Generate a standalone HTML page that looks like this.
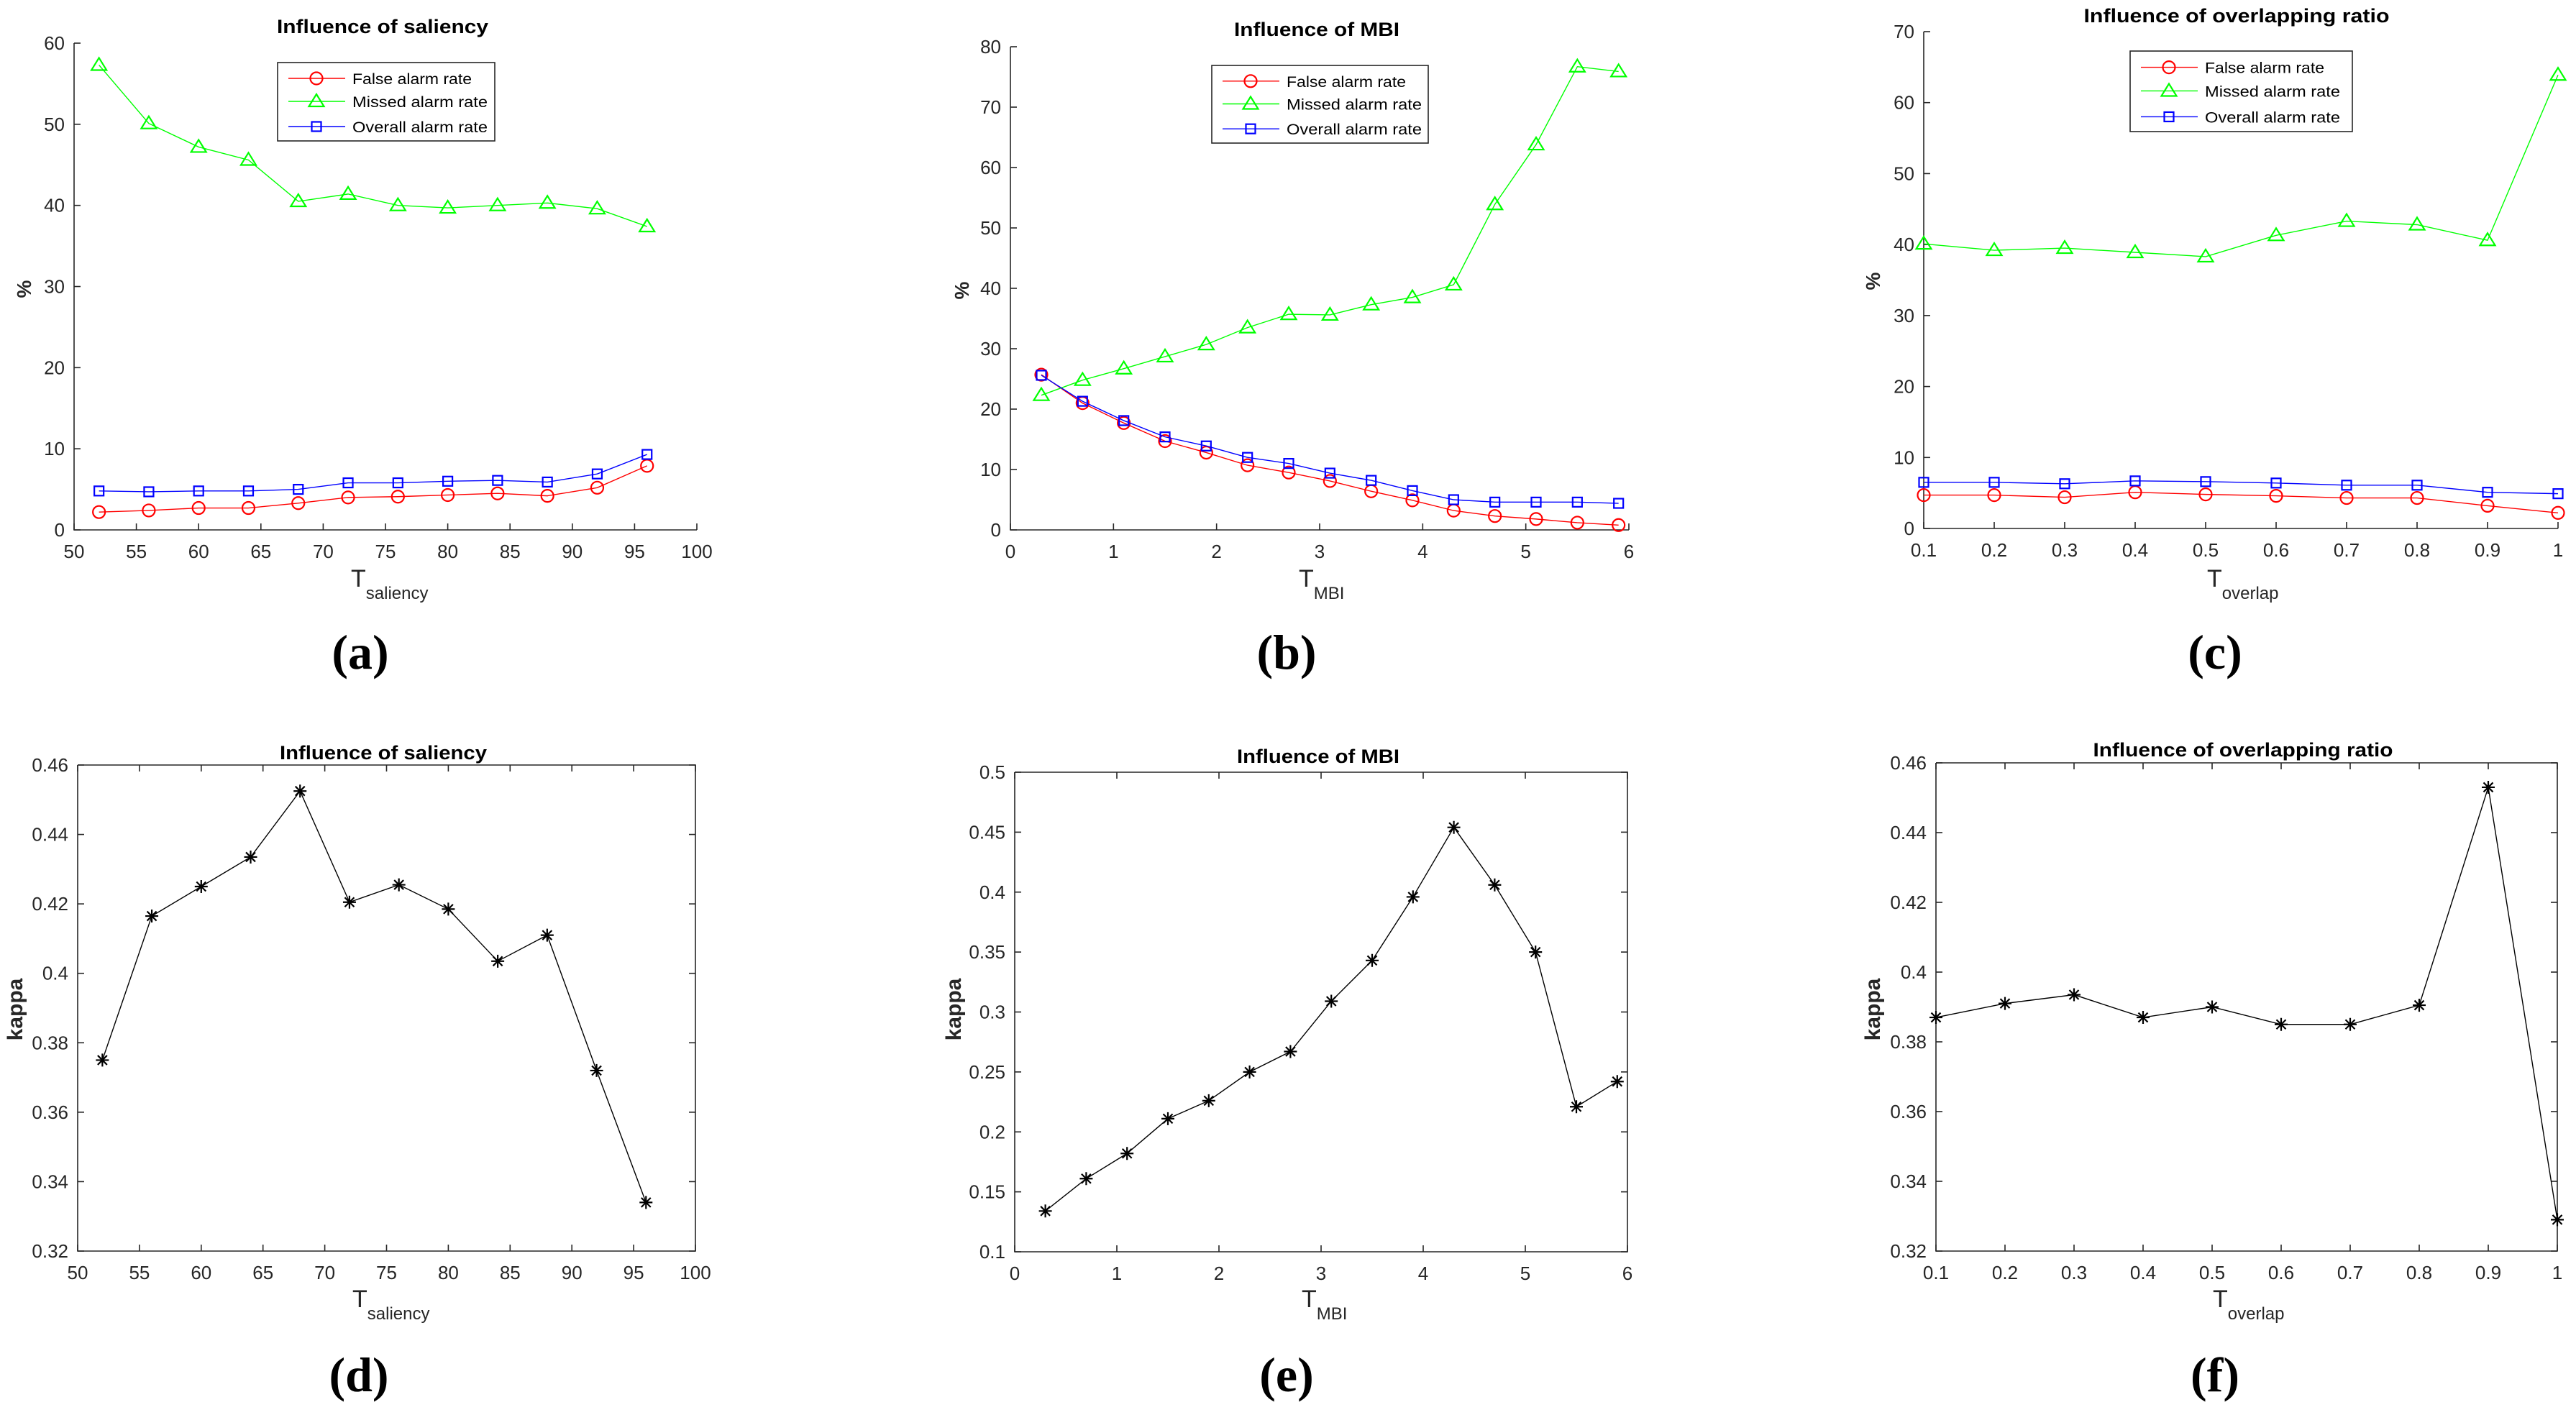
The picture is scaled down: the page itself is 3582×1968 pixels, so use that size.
<!DOCTYPE html>
<html><head><meta charset="utf-8"><style>
html,body{margin:0;padding:0;background:#fff;}
svg{display:block;font-family:"Liberation Sans",Arial,sans-serif;}
</style></head><body>
<svg id="fig" width="3582" height="1968" viewBox="0 0 3582 1968" xmlns="http://www.w3.org/2000/svg"></svg>
<script>
// ---- data ----
const salX = [52,56,60,64,68,72,76,80,84,88,92,96];
const salFalse = [2.2,2.4,2.7,2.7,3.3,4.0,4.1,4.3,4.5,4.2,5.2,7.9];
const salMissed = [57.3,50.1,47.2,45.6,40.5,41.4,40.0,39.7,40.0,40.3,39.6,37.4];
const salOverall = [4.8,4.7,4.8,4.8,5.0,5.8,5.8,6.0,6.1,5.9,6.9,9.3];
const mbiX = [0.3,0.7,1.1,1.5,1.9,2.3,2.7,3.1,3.5,3.9,4.3,4.7,5.1,5.5,5.9];
const mbiFalse = [25.7,21.0,17.7,14.7,12.8,10.7,9.5,8.1,6.4,4.9,3.2,2.3,1.8,1.2,0.8];
const mbiMissed = [22.3,24.8,26.7,28.7,30.7,33.5,35.7,35.6,37.3,38.5,40.6,53.9,63.8,76.7,75.9];
const mbiOverall = [25.6,21.3,18.1,15.4,13.9,12.0,11.0,9.4,8.2,6.5,5.0,4.6,4.6,4.6,4.4];
const ovX = [0.1,0.2,0.3,0.4,0.5,0.6,0.7,0.8,0.9,1.0];
const ovFalse = [4.7,4.7,4.4,5.1,4.8,4.6,4.3,4.3,3.2,2.2];
const ovMissed = [40.1,39.2,39.5,38.9,38.3,41.3,43.3,42.8,40.6,63.9];
const ovOverall = [6.5,6.5,6.3,6.7,6.6,6.4,6.1,6.1,5.1,4.9];
const salKappa = [0.375,0.4165,0.425,0.4335,0.4525,0.4205,0.4255,0.4185,0.4035,0.411,0.372,0.334];
const mbiKappa = [0.134,0.161,0.182,0.211,0.226,0.250,0.267,0.309,0.343,0.396,0.454,0.406,0.350,0.221,0.242];
const ovKappa = [0.387,0.391,0.3935,0.387,0.390,0.385,0.385,0.3905,0.453,0.329];
const salTicks = ['50','55','60','65','70','75','80','85','90','95','100'];
const mbiTicks = ['0','1','2','3','4','5','6'];
const ovTicks = ['0.1','0.2','0.3','0.4','0.5','0.6','0.7','0.8','0.9','1'];
const pctTicks60 = ['0','10','20','30','40','50','60'];
const pctTicks80 = ['0','10','20','30','40','50','60','70','80'];
const pctTicks70 = ['0','10','20','30','40','50','60','70'];
const kapTicksA = ['0.32','0.34','0.36','0.38','0.4','0.42','0.44','0.46'];
const kapTicksB = ['0.1','0.15','0.2','0.25','0.3','0.35','0.4','0.45','0.5'];
const legendLabels = ['False alarm rate','Missed alarm rate','Overall alarm rate'];

const NS='http://www.w3.org/2000/svg';
const svg=document.getElementById('fig');
const AX='#262626';
function mk(tag,attrs,parent){const e=document.createElementNS(NS,tag);for(const k in attrs)e.setAttribute(k,attrs[k]);(parent||svg).appendChild(e);return e;}

function marker(g,type,x,y,color){
  let m;
  if(type==='o') m=mk('circle',{cx:x,cy:y,r:8.5,fill:'none',stroke:color,'stroke-width':2.2},g);
  else if(type==='^') m=mk('polygon',{points:`${x},${y-10} ${x-10.5},${y+7} ${x+10.5},${y+7}`,fill:'none',stroke:color,'stroke-width':2.2},g);
  else if(type==='s') m=mk('rect',{x:x-6.5,y:y-6.5,width:13,height:13,fill:'none',stroke:color,'stroke-width':2.2},g);
  else { m=mk('path',{d:`M${x-9},${y}H${x+9}M${x},${y-9}V${y+9}M${x-6.5},${y-6.5}L${x+6.5},${y+6.5}M${x-6.5},${y+6.5}L${x+6.5},${y-6.5}`,stroke:color,'stroke-width':2.2,fill:'none'},g);}
  return m;
}

function panel(p){
  const g=mk('g',{});
  
  
  const sx=v=>p.x0+(v-p.xmin)/(p.xmax-p.xmin)*(p.x1-p.x0);
  const sy=v=>p.y0-(v-p.ymin)/(p.ymax-p.ymin)*(p.y0-p.y1);
  // axes
  const ax=mk('path',{d:`M${p.x0},${p.y1}V${p.y0}H${p.x1}`+(p.box?`V${p.y1}H${p.x0}`:''),fill:'none',stroke:AX,'stroke-width':1.6},g);
  
  
  p.xt.forEach((t,i)=>{
    const v=parseFloat(t), x=sx(v);
    mk('line',{x1:x,x2:x,y1:p.y0,y2:p.y0-9,stroke:AX,'stroke-width':1.6},g);
    if(p.box) mk('line',{x1:x,x2:x,y1:p.y1,y2:p.y1+9,stroke:AX,'stroke-width':1.6},g);
    const tx=mk('text',{x:x,y:p.y0+39,'font-size':26,fill:AX,'text-anchor':'middle'},g);
    tx.textContent=t;
    
    
  });
  p.yt.forEach((t,i)=>{
    const v=parseFloat(t), y=sy(v);
    mk('line',{x1:p.x0,x2:p.x0+9,y1:y,y2:y,stroke:AX,'stroke-width':1.6},g);
    if(p.box) mk('line',{x1:p.x1,x2:p.x1-9,y1:y,y2:y,stroke:AX,'stroke-width':1.6},g);
    const tx=mk('text',{x:p.x0-13,y:y+9,'font-size':26,fill:AX,'text-anchor':'end'},g);
    tx.textContent=t;
    
    
  });
  // title
  const ti=mk('text',{x:p.tx,y:p.ty,'font-size':27,'font-weight':'bold',fill:'#000','text-anchor':'middle',textLength:p.tw,lengthAdjust:'spacingAndGlyphs'},g);
  ti.textContent=p.title;
  
  
  // y label
  const yl=mk('text',{x:0,y:0,'font-size':p.ylab==='%'?28:30,'font-weight':'bold',fill:'#262626','text-anchor':'middle',transform:`translate(${p.ylx},${p.yly}) rotate(-90)`},g);
  yl.textContent=p.ylab;
  
  
  // x label
  const xl=mk('text',{x:p.xlx,y:p.xly,'font-size':34,fill:AX},g);
  
  
  const t1=mk('tspan',{},xl); t1.textContent='T';
  const t2=mk('tspan',{'font-size':24,dy:17}); xl.appendChild(t2); t2.textContent=p.sub;
  // panel letter
  const pl=mk('text',{x:p.plx,y:p.ply,'font-size':68,'font-weight':'bold','font-family':'"Liberation Serif",serif',fill:'#000','text-anchor':'middle'},g);
  pl.textContent=p.letter;
  
  
  // series
  p.series.forEach(s=>{
    const sg=mk('g',{},g);
    
    
    const pts=p.xs.map((xv,i)=>sx(xv)+','+sy(s.v[i])).join(' ');
    mk('polyline',{points:pts,fill:'none',stroke:s.c,'stroke-width':1.4},sg);
    p.xs.forEach((xv,i)=>{
      const m=marker(sg,s.m,sx(xv),sy(s.v[i]),s.c);
      
      
    });
  });
  // legend
  if(p.leg){
    const L=p.leg;
    const lg=mk('g',{},g);
    
    
    mk('rect',{x:L.x,y:L.y,width:L.w,height:L.h,fill:'#fff',stroke:AX,'stroke-width':1.6},lg);
    const offs=[22,54,89];
    p.series.forEach((s,i)=>{
      const y=L.y+offs[i]*L.h/109;
      const e=mk('g',{},lg);
      
      
      mk('line',{x1:L.x+15,x2:L.x+94,y1:y,y2:y,stroke:s.c,'stroke-width':1.4},e);
      marker(e,s.m,L.x+54,y,s.c);
      const t=mk('text',{x:L.x+104,y:y+8,'font-size':21,fill:'#000',textLength:i===0?166:188,lengthAdjust:'spacingAndGlyphs'},e);
      t.textContent=legendLabels[i];
    });
  }
}

const R='#ff0000',G='#00ff00',B='#0000ff',K='#000';
panel({name:'chart-a-saliency-rates',x0:103,x1:969,xmin:50,xmax:100,y0:737,y1:60,ymin:0,ymax:60,xt:salTicks,yt:pctTicks60,box:false,
  title:'Influence of saliency',tx:532,ty:46,tw:294,ylab:'%',ylx:43,yly:402,sub:'saliency',xlx:488,xly:816,letter:'(a)',plx:501,ply:930,
  xs:salX,series:[{name:'series-false-alarm',v:salFalse,c:R,m:'o'},{name:'series-missed-alarm',v:salMissed,c:G,m:'^'},{name:'series-overall-alarm',v:salOverall,c:B,m:'s'}],
  leg:{x:386,y:87,w:302,h:109}});
panel({name:'chart-b-mbi-rates',x0:1405,x1:2265,xmin:0,xmax:6,y0:737,y1:65,ymin:0,ymax:80,xt:mbiTicks,yt:pctTicks80,box:false,
  title:'Influence of MBI',tx:1831,ty:50,tw:230,ylab:'%',ylx:1347,yly:404,sub:'MBI',xlx:1806,xly:816,letter:'(b)',plx:1789,ply:930,
  xs:mbiX,series:[{name:'series-false-alarm',v:mbiFalse,c:R,m:'o'},{name:'series-missed-alarm',v:mbiMissed,c:G,m:'^'},{name:'series-overall-alarm',v:mbiOverall,c:B,m:'s'}],
  leg:{x:1685,y:91,w:301,h:108}});
panel({name:'chart-c-overlap-rates',x0:2675,x1:3557,xmin:0.1,xmax:1.0,y0:735,y1:44,ymin:0,ymax:70,xt:ovTicks,yt:pctTicks70,box:false,
  title:'Influence of overlapping ratio',tx:3110,ty:31,tw:425,ylab:'%',ylx:2614,yly:391,sub:'overlap',xlx:3069,xly:816,letter:'(c)',plx:3080,ply:930,
  xs:ovX,series:[{name:'series-false-alarm',v:ovFalse,c:R,m:'o'},{name:'series-missed-alarm',v:ovMissed,c:G,m:'^'},{name:'series-overall-alarm',v:ovOverall,c:B,m:'s'}],
  leg:{x:2962,y:71,w:309,h:112}});
panel({name:'chart-d-saliency-kappa',x0:108,x1:967,xmin:50,xmax:100,y0:1740,y1:1064,ymin:0.32,ymax:0.46,xt:salTicks,yt:kapTicksA,box:true,
  title:'Influence of saliency',tx:533,ty:1056,tw:288,ylab:'kappa',ylx:31,yly:1404,sub:'saliency',xlx:490,xly:1818,letter:'(d)',plx:499,ply:1935,
  xs:salX,series:[{name:'series-kappa',v:salKappa,c:K,m:'*'}]});
panel({name:'chart-e-mbi-kappa',x0:1411,x1:2263,xmin:0,xmax:6,y0:1741,y1:1074,ymin:0.1,ymax:0.5,xt:mbiTicks,yt:kapTicksB,box:true,
  title:'Influence of MBI',tx:1833,ty:1061,tw:226,ylab:'kappa',ylx:1336,yly:1404,sub:'MBI',xlx:1810,xly:1818,letter:'(e)',plx:1789,ply:1935,
  xs:mbiX,series:[{name:'series-kappa',v:mbiKappa,c:K,m:'*'}]});
panel({name:'chart-f-overlap-kappa',x0:2692,x1:3556,xmin:0.1,xmax:1.0,y0:1740,y1:1061,ymin:0.32,ymax:0.46,xt:ovTicks,yt:kapTicksA,box:true,
  title:'Influence of overlapping ratio',tx:3119,ty:1052,tw:417,ylab:'kappa',ylx:2614,yly:1404,sub:'overlap',xlx:3077,xly:1818,letter:'(f)',plx:3080,ply:1935,
  xs:ovX,series:[{name:'series-kappa',v:ovKappa,c:K,m:'*'}]});
</script>
</body></html>
